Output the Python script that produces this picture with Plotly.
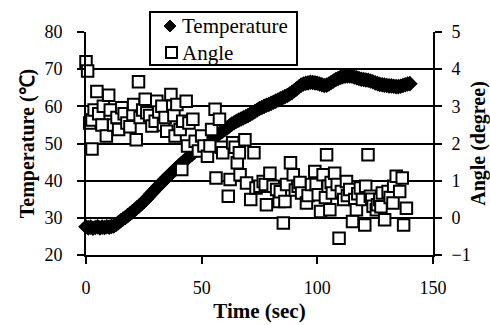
import plotly.graph_objects as go

# Temperature (deg C), sampled every second, t = 0..140 s
temp_time = list(range(0, 141))
temperature = [
    27.6, 27.3, 27.5, 27.2, 27.4, 27.6, 27.3, 27.5, 27.4, 27.6,
    27.5, 27.7, 27.8, 28.2, 28.7, 29.2, 29.7, 30.1, 30.6, 31.1,
    31.6, 32.1, 32.7, 33.2, 33.8, 34.4, 35.0, 35.7, 36.4, 37.0,
    37.7, 38.4, 39.0, 39.6, 40.3, 40.9, 41.5, 42.1, 42.7, 43.3,
    43.9, 44.5, 45.0, 45.6, 46.1, 46.7, 47.2, 47.7, 48.2, 48.7,
    49.1, 49.6, 50.0, 50.5, 51.0, 51.5, 52.0, 52.4, 52.9, 53.3,
    53.8, 54.2, 54.7, 55.2, 55.6, 56.0, 56.3, 56.6, 56.9, 57.2,
    57.5, 57.9, 58.2, 58.6, 59.0, 59.4, 59.7, 60.0, 60.3, 60.5,
    60.8, 61.1, 61.4, 61.7, 62.0, 62.3, 62.6, 62.9, 63.3, 63.7,
    64.2, 64.7, 65.2, 65.7, 66.0, 66.2, 66.3, 66.5, 66.4, 66.3,
    66.2, 66.0, 65.8, 65.6, 65.7, 66.0, 66.4, 66.8, 67.2, 67.5,
    67.8, 68.0, 68.1, 68.2, 68.2, 68.1, 67.9, 67.7, 67.5, 67.3,
    67.2, 67.1, 67.0, 66.8, 66.6, 66.3, 66.1, 65.9, 65.8, 65.7,
    65.6, 65.5, 65.5, 65.4, 65.3, 65.3, 65.4, 65.6, 65.8, 66.0,
    66.1,
]

# Angle (degree) readings
angle_time = [
    0, 0.7, 1.6, 2.6, 2.6, 3.5, 4.7, 5.5, 6.9, 7.5, 8.8, 9.8, 10.5, 12, 13.4,
    14.1, 15.5, 16.5, 17.7, 19, 20.3, 20.6, 21.7, 22.7, 23.4, 24.5, 25.6, 26.3,
    27.5, 28.5, 29.9, 30.6, 31.5, 32.8, 33.5, 34.2, 34.9, 36.7, 37.5, 38, 38.5,
    39.3, 40.7, 41.4, 41.8, 43.3, 43.9, 44.5, 46.2, 47.2, 48.6, 50, 51, 52.5,
    53.6, 54.3, 55.8, 56.2, 57.7, 58.5, 59.1, 61.5, 62.3, 63.4, 64.5, 65.4,
    66.3, 66.6, 68.7, 69.4, 71.2, 72.6, 73.5, 75.2, 76.6, 77.5, 78, 79.5, 80.9,
    82.4, 83.5, 84, 85.3, 86, 86.7, 88.4, 89.6, 90.5, 91.7, 92.5, 93.2, 95.3,
    96, 97.5, 98.9, 99.5, 100.4, 101.4, 102.5, 103.5, 104, 104.7, 105.4, 106,
    106.5, 107.5, 108.6, 109.4, 110.4, 111.4, 112.6, 113, 114, 115.2, 116.2,
    116.9, 117.5, 118.6, 119.5, 120.5, 120.9, 121.9, 122.9, 123.5, 124.1,
    125.5, 126, 127, 127.5, 128.1, 129.1, 130.6, 131.5, 132.7, 133, 134.1,
    135.6, 136.7, 137.3, 138.5,
]
angle = [
    4.2, 3.95, 2.55, 2.63, 1.85, 2.9, 3.4, 2.8, 2.5, 3.0, 2.2, 3.3, 2.9, 2.5, 2.7,
    2.38, 2.96, 2.8, 2.55, 2.45, 2.78, 3.05, 2.1, 3.66, 2.7, 2.9, 3.19, 2.83,
    2.75, 2.47, 2.6, 3.14, 2.85, 3.0, 2.5, 2.7, 2.33, 3.32, 3.0, 2.75, 2.2,
    3.05, 2.38, 1.3, 2.6, 3.14, 1.93, 2.55, 2.65, 2.06, 1.8, 2.2, 1.93, 1.66,
    1.93, 2.38, 2.92, 1.07, 2.65, 1.9, 1.75, 0.58, 1.03, 2.02, 1.9, 1.48,
    1.75, 1.16, 2.1, 0.94, 0.49, 1.75, 0.8, 0.85, 0.98, 0.9, 0.35, 1.2, 0.85,
    0.76, 0.44, 0.7, -0.14, 0.44, 0.9, 1.48, 1.16, 0.75, 0.85, 0.95, 0.67, 0.4,
    0.6, 0.9, 1.25, 0.9, 0.62, 0.17, 1.16, 0.55, 1.7, 0.85, 0.22, 0.95,
    0.67, 1.2, 0.9, -0.55, 0.71, 0.49, 0.98, 0.6, 0.76, -0.1, 0.49,
    0.22, 0.65, 0.8, 0.49, -0.19, 0.85, 1.7, 0.58, 0.5, 0.31,
    0.22, 0.35, 0.49, 0.3, 0.67, -0.05, 0.71, 0.55, 0.4, 0.85, 1.12,
    0.71, 1.07, -0.19, 0.26,
]

x_ticks = [0, 50, 100, 150]
temp_ticks = [20, 30, 40, 50, 60, 70, 80]
angle_ticks = [-1, 0, 1, 2, 3, 4, 5]
series_names = ["Temperature", "Angle"]

FONT = "Liberation Serif, Times New Roman, serif"

W, H = 490, 325
ML, MR, MT, MB = 86, 57, 32, 70
PW, PH = W - ML - MR, H - MT - MB


def px(xp):
    return (xp - ML) / PW


def py(yp):
    return (H - MB - yp) / PH


fig = go.Figure()
fig.add_trace(go.Scatter(
    x=temp_time, y=temperature, name=series_names[0], mode="markers",
    marker=dict(symbol="diamond", size=12, color="black", line=dict(width=0)),
    cliponaxis=False, yaxis="y", showlegend=False,
))
fig.add_trace(go.Scatter(
    x=angle_time, y=angle, name=series_names[1], mode="markers",
    marker=dict(symbol="square", size=11.5, color="white",
                line=dict(color="black", width=2)),
    cliponaxis=False, yaxis="y2", showlegend=False,
))

# legend box (drawn as layout decorations)
shapes = [
    dict(type="rect", xref="paper", yref="paper",
         x0=px(150), x1=px(297), y0=py(65), y1=py(12),
         line=dict(color="black", width=2), fillcolor="white", layer="above"),
    dict(type="path", xref="paper", yref="paper",
         path="M {a},{b} L {c},{d} L {a},{e} L {f},{d} Z".format(
             a=px(170), b=py(20), c=px(176), d=py(26), e=py(32), f=px(164)),
         line=dict(color="black", width=1), fillcolor="black", layer="above"),
    dict(type="rect", xref="paper", yref="paper",
         x0=px(166), x1=px(177), y0=py(58), y1=py(47),
         line=dict(color="black", width=2), fillcolor="white", layer="above"),
]
annotations = [
    dict(text=series_names[0], xref="paper", yref="paper", x=px(180), y=py(26),
         xanchor="left", yanchor="middle", showarrow=False,
         font=dict(family=FONT, size=21, color="black")),
    dict(text=series_names[1], xref="paper", yref="paper", x=px(180), y=py(53),
         xanchor="left", yanchor="middle", showarrow=False,
         font=dict(family=FONT, size=21, color="black")),
]

fig.update_layout(
    template="none",
    width=W, height=H,
    margin=dict(l=ML, r=MR, t=MT, b=MB),
    paper_bgcolor="white", plot_bgcolor="white",
    font=dict(family=FONT, size=18, color="black"),
    showlegend=False,
    shapes=shapes, annotations=annotations,
    xaxis=dict(
        range=[0, 150], tickvals=x_ticks, ticks="outside", ticklen=7,
        tickwidth=2, tickcolor="black", showline=True, linecolor="black",
        linewidth=2, showgrid=False, zeroline=False, ticklabelstandoff=8,
        automargin=False, tickfont=dict(family=FONT, size=18),
        title=dict(text="<b>Time (sec)</b>", font=dict(family=FONT, size=21), standoff=7),
    ),
    yaxis=dict(
        range=[20, 80], tickvals=temp_ticks, ticks="outside", ticklen=7,
        tickwidth=2, tickcolor="black", showline=True, linecolor="black",
        linewidth=2, showgrid=True, gridcolor="black", gridwidth=1.5,
        zeroline=False, ticklabelstandoff=11, automargin=False,
        tickfont=dict(family=FONT, size=18),
        title=dict(text="<b>Temperature (℃)</b>", font=dict(family=FONT, size=20), standoff=4),
    ),
    yaxis2=dict(
        range=[-1, 5], tickvals=angle_ticks, overlaying="y", side="right",
        ticks="outside", ticklen=7, tickwidth=2, tickcolor="black",
        showline=True, linecolor="black", linewidth=2, showgrid=False,
        zeroline=False, ticklabelstandoff=6, automargin=False,
        tickfont=dict(family=FONT, size=18),
        title=dict(text="<b>Angle (degree)</b>", font=dict(family=FONT, size=20), standoff=4),
    ),
)

fig.write_html("out.html")
